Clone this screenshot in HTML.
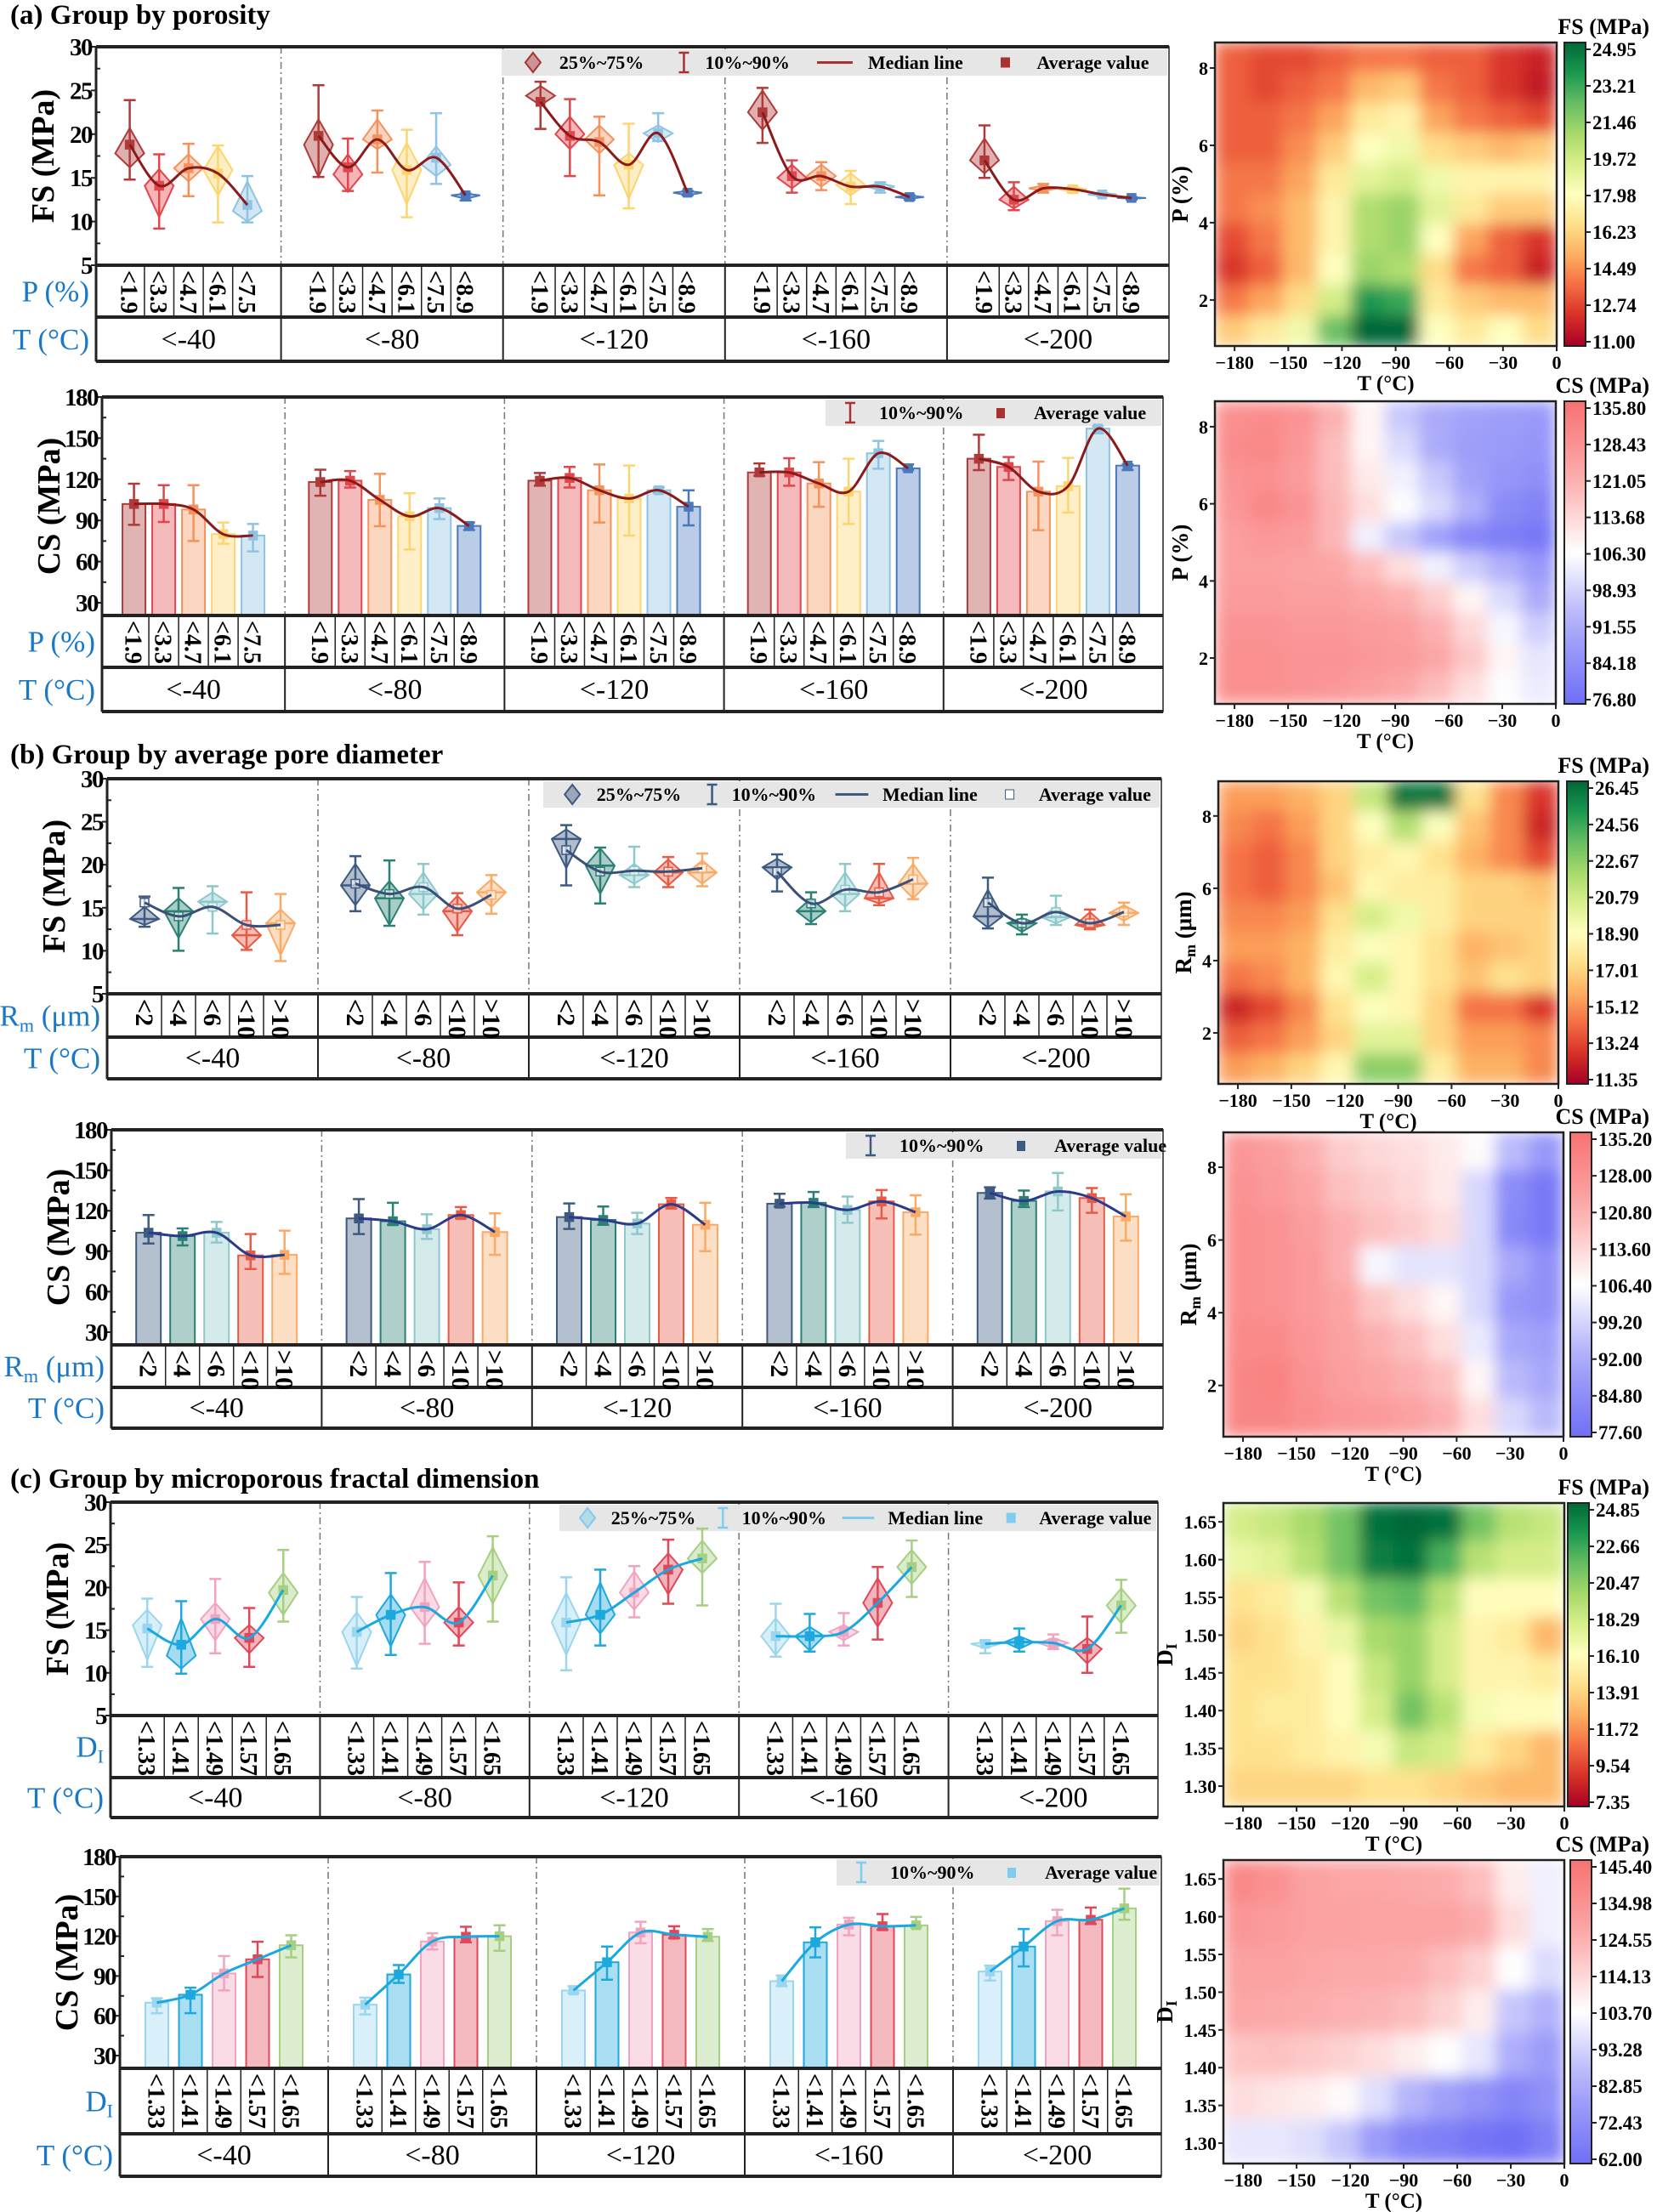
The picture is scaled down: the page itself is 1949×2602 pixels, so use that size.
<!DOCTYPE html>
<html><head><meta charset="utf-8"><style>
body{margin:0;background:#fff}
svg{display:block;font-family:"Liberation Serif",serif}
</style></head><body>
<svg id="fig" width="1949" height="2602" viewBox="0 0 1949 2602" xmlns="http://www.w3.org/2000/svg">
<defs>
<filter id="blur" x="0" y="0" width="100%" height="100%"><feGaussianBlur stdDeviation="9" edgeMode="duplicate"/></filter>
</defs>
</svg>
<script>
// ---------- DATA ----------
const tempLabels = ["<-40","<-80","<-120","<-160","<-200"];
const porosityCats = [["<1.9","<3.3","<4.7","<6.1","<7.5"],["<1.9","<3.3","<4.7","<6.1","<7.5","<8.9"],["<1.9","<3.3","<4.7","<6.1","<7.5","<8.9"],["<1.9","<3.3","<4.7","<6.1","<7.5","<8.9"],["<1.9","<3.3","<4.7","<6.1","<7.5","<8.9"]];
const poreCats = ["<2","<4","<6","<10",">10"];
const fractalCats = ["<1.33","<1.41","<1.49","<1.57","<1.65"];
const fsTicks = [5,10,15,20,25,30];
const csTicks = [30,60,90,120,150,180];

const aFS_p90 = [23.9,17.7,18.9,18.7,15.2, 25.6,19.5,22.7,20.5,22.4,13.2, 26.0,24.0,22.0,21.2,22.4,13.5, 25.3,17.0,16.8,15.8,14.5,13.0, 21.0,14.5,14.3,14.0,13.3,12.8];
const aFS_p10 = [14.8,9.2,12.9,9.9,9.9, 15.1,13.5,15.6,10.5,14.3,12.4, 20.6,15.2,13.0,11.5,19.2,13.0, 19.0,13.3,13.6,12.0,13.3,12.5, 15.0,11.3,13.3,13.3,12.9,12.5];
const aFS_q75 = [20.7,16.0,17.7,18.6,14.6, 21.7,17.7,21.7,19.0,18.6,13.2, 25.5,22.0,21.0,17.8,21.0,13.5, 25.0,16.5,16.5,15.5,14.4,13.0, 19.5,14.0,14.1,13.9,13.3,12.8];
const aFS_q25 = [16.2,10.5,14.6,13.0,10.0, 15.1,13.4,18.3,12.0,15.2,12.6, 23.3,18.3,17.8,12.6,19.1,13.0, 20.5,13.8,14.0,13.0,13.6,12.6, 15.5,11.5,13.5,13.4,12.9,12.6];
const aFS_med = [17.8,14.1,16.1,15.9,11.2, 18.8,15.4,19.4,15.9,16.5,13.0, 24.4,20.0,19.4,16.5,20.1,13.3, 22.5,15.0,15.2,14.2,14.0,12.8, 17.0,12.5,13.8,13.7,13.1,12.7];
const aFS_mean = [18.8,14.1,16.1,15.5,11.9, 19.8,16.2,19.4,15.9,17.3,13.0, 23.7,19.8,19.1,16.5,20.1,13.3, 22.5,15.2,15.2,14.0,14.0,12.8, 17.0,12.5,13.8,13.7,13.1,12.7];

const aCS_mean = [102,102,98,80,79, 118,119,105,93,99,86, 119,121,112,106,112,100, 125,125,117,111,139,128, 135,129,111,115,157,130];
const aCS_p90 = [116.8,115.7,115.7,88.5,87.4, 127,126,124,109.8,106,88.5, 124.6,129,130.8,130,114,112, 131.6,135.4,132.5,135,148,130.8, 152.5,136.2,132.9,135.6,158.7,130.8];
const aCS_p10 = [86.8,88.9,75,73,67.4, 108,114,85.8,68.8,91,83, 115.3,114,88.5,79,110,86.4, 122.6,115.3,100,87.4,127.7,126.7, 126.7,119.5,82.9,95.7,153.5,126.7];

const bFS_p90 = [16.3,17.3,17.5,16.8,16.6, 21.0,20.5,20.1,16.7,18.8, 24.6,22.0,22.1,20.9,21.3, 21.2,16.8,20.1,20.1,20.8, 18.5,14.2,16.4,14.8,15.6];
const bFS_p10 = [12.8,10.0,12.0,10.1,8.8, 14.6,12.9,14.2,11.8,14.3, 17.6,15.5,17.4,17.4,17.5, 16.9,13.1,14.6,15.3,16.0, 12.6,11.9,13.0,12.5,13.0];
const bFS_q75 = [15.1,16.1,16.8,13.5,14.8, 20.1,18.1,19.1,16.4,18.3, 24.1,21.9,20.1,20.6,20.5, 20.7,16.1,19.1,19.1,20.1, 17.1,13.8,15.1,14.5,15.3];
const bFS_q25 = [13.0,11.5,14.5,10.2,9.5, 15.3,13.0,14.8,12.2,15.1, 19.6,16.6,17.8,17.6,17.8, 18.3,13.3,15.1,15.5,16.1, 12.7,12.2,13.2,12.6,13.5];
const bFS_med = [13.7,14.6,15.7,11.8,13.2, 17.6,16.1,16.6,14.6,16.8, 23.0,19.9,18.8,19.1,19.1, 19.7,14.6,16.6,16.1,17.8, 14.0,13.2,13.9,13.0,14.4];
const bFS_mean = [15.6,14.0,15.1,13.0,13.0, 17.8,16.6,17.4,14.9,16.5, 21.7,19.2,19.3,19.2,19.6, 19.2,15.5,17.1,16.8,18.3, 15.6,13.2,14.5,13.2,14.5];

const bCS_mean = [103.7,101.2,103.7,86.9,87.3, 114.3,112.2,106.3,116.8,104.2, 115.3,113.2,110.5,124.8,109.6, 125.2,125.9,120.6,126.9,118.9, 133.2,127.3,134.3,129.4,115.7];
const bCS_p90 = [116.8,106.9,111.7,102.7,105.2, 128.6,125.9,117.4,122.7,118.1, 125.4,123.1,118.5,129.4,125.9, 132.6,133.9,130.5,135.3,131.5, 137.4,134.9,148,136.8,132.2];
const bCS_p10 = [95.7,94.3,96.4,76.8,73.2, 102.7,109.6,99.1,114.3,87.3, 106.5,109.6,102.7,121.6,90, 123.1,122.7,111.1,114.3,102.3, 129,122.7,120.2,118.5,97.8];

const cFS_p90 = [18.7,18.4,21.0,17.6,24.4, 18.9,21.7,23.0,20.6,26.0, 21.2,22.1,22.5,25.6,26.9, 18.1,16.9,17.0,22.4,25.5, 13.8,15.2,14.5,16.6,20.9];
const cFS_p10 = [10.7,9.9,12.3,10.7,16.0, 10.5,12.1,13.4,13.2,16.0, 10.3,13.2,16.5,18.1,17.9, 11.9,12.5,13.2,13.9,18.9, 12.3,12.5,12.8,10.0,14.7];
const cFS_q75 = [17.4,16.4,18.2,15.6,21.7, 17.1,19.2,21.1,17.7,24.7, 19.4,20.6,21.9,24.0,25.5, 16.4,15.4,15.6,21.1,24.4, 13.6,14.3,14.1,14.1,19.9];
const cFS_q25 = [11.5,10.5,13.8,12.3,16.8, 10.8,13.1,15.4,14.1,18.1, 12.1,14.6,17.4,19.2,21.7, 12.1,12.6,13.8,15.4,20.4, 12.9,12.8,12.9,11.1,15.8];
const cFS_med = [15.6,12.0,16.3,14.1,19.4, 14.8,16.8,17.7,15.9,21.4, 15.9,16.8,19.4,22.1,23.4, 14.3,14.3,14.8,18.2,22.4, 13.4,13.6,13.5,12.8,17.9];
const cFS_mean = [15.2,13.3,16.3,14.1,19.7, 14.8,16.8,17.7,15.9,21.4, 15.9,16.8,19.4,22.1,23.4, 14.3,14.3,14.8,18.2,22.4, 13.4,13.6,13.5,12.8,17.9];

const cCS_mean = [69.9,75.9,91.9,102.6,113.2, 68.4,91.2,116,119.6,120, 79.1,100.4,122.8,121.1,119.6, 86.1,115.4,128.8,127.5,128.2, 93.4,112.2,131.4,132.4,141];
const cCS_p90 = [73.3,81.2,105.1,115.8,120.7, 73.7,98.3,122.2,127.1,128.2, 82.3,112.2,130.9,127.5,125.4, 90.4,126.7,133.9,136.7,134.6, 97.9,125.4,139.9,141.6,155.9];
const cCS_p10 = [62,62,79.1,89.3,104, 61,84.8,110,115.4,109, 77,87.2,114.7,118.6,116.4, 82.3,104,120.7,124.9,126.7, 86.6,97.2,120.7,129.2,132.4];

// heatmap grids (rows top->bottom, cols T=-180..0)
const hmA_FS = [
[13.5,13,13,13.5,14,14,13.5,13.5,12.5,12],
[13.5,13,13.5,14,15.5,16,14,13.5,12.5,11.8],
[13.5,13.5,14,15,17,17.5,15,14,13.5,13],
[13.5,13.5,14.5,16,18,18.5,16.5,16,15.5,16],
[14,14,15,17,19,19.5,18.5,17.5,17.5,17.5],
[14,14.5,15.5,17.5,20.5,21,19,17,16,16],
[13,14,15.5,17.5,20.5,21,18,15,13.5,12.5],
[12.5,13.5,15.5,18,21,20.5,16.5,14,13.5,12],
[14,15,16.5,19.5,23.5,23,17,16,15.5,15.5],
[16,17,18.5,22,25,25,18,17,18,16.5]];
const hmA_CS = [
[128,129,127,120,108,97,92,90,89,88],
[129,130,126,118,108,100,92,89,88,87],
[127,128,125,118,110,104,97,90,87,85],
[126,130,127,119,112,106,100,93,84,82],
[124,126,125,119,104,97,90,83,81,79],
[124,124,123,122,118,112,104,98,93,88],
[125,125,124,124,122,120,115,108,100,92],
[127,127,126,126,125,124,120,113,105,98],
[128,128,127,127,126,125,122,116,108,102],
[128,128,127,126,124,122,118,112,106,103]];
const hmB_FS = [
[15.5,15.5,16,17,21,26,26,17.5,15,13],
[15,14.5,15.5,17,19,21.5,19,16.5,15,12.5],
[14.5,14,15,17,18,18.5,17.5,16,15,13.5],
[14.5,14,15,16.5,18.5,18,18,17,17,16.5],
[15,15,15.5,17.5,20.5,19.5,18,17,17,17],
[15.5,15.5,16,18,19,18.5,17.5,16,16.5,17],
[14.5,15,16,18.5,20.5,18.5,17.5,16.5,17.5,17],
[12.5,13.5,15,17.5,19,18.5,17,14.5,14.5,13],
[14,14.5,15.5,17,20,20,17,15.5,15.5,15],
[15.5,16,17,18.5,22.5,22.5,18,16,16,15]];
const hmB_CS = [
[126,124,120,115,113,112,110,107,95,88],
[127,125,122,117,115,113,110,100,85,80],
[128,127,124,120,117,115,112,100,84,80],
[128,127,125,120,105,102,102,100,92,86],
[128,127,125,122,116,112,108,100,88,86],
[129,129,126,123,120,117,112,103,92,90],
[130,131,127,124,122,120,117,108,95,92],
[130,130,128,126,125,123,120,112,100,95]];
const hmC_FS = [
[18,18.5,19.5,21,24.5,25,24.5,21,19,18.5],
[17,17.5,19,21,24,24.5,22,19,18,18],
[14.5,15,16.5,19,21,21.5,19,16,16,16],
[14,14.5,15.5,17,19.5,20,18,15.5,15,13],
[14.5,14.5,15,16,18.5,20,18,15.5,15.5,15],
[14.5,15,15,16,18,21,19,16.5,16,16],
[14.5,14.5,15,15.5,16.5,18.5,18,15,14,13],
[14,14,14,14,14.5,14.5,14,13.5,13,13]];
const hmC_CS = [
[137,134,128,126,126,125,124,120,108,100],
[132,130,128,128,127,127,127,124,112,100],
[128,128,126,125,125,124,120,115,104,95],
[126,125,124,123,122,120,115,108,90,85],
[118,119,117,115,112,108,104,98,84,78],
[112,110,108,105,96,86,80,75,70,74],
[98,98,96,90,78,70,68,64,62,68]];
const cbA_FS = ["24.95","23.21","21.46","19.72","17.98","16.23","14.49","12.74","11.00"];
const cbA_CS = ["135.80","128.43","121.05","113.68","106.30","98.93","91.55","84.18","76.80"];
const cbB_FS = ["26.45","24.56","22.67","20.79","18.90","17.01","15.12","13.24","11.35"];
const cbB_CS = ["135.20","128.00","120.80","113.60","106.40","99.20","92.00","84.80","77.60"];
const cbC_FS = ["24.85","22.66","20.47","18.29","16.10","13.91","11.72","9.54","7.35"];
const cbC_CS = ["145.40","134.98","124.55","114.13","103.70","93.28","82.85","72.43","62.00"];
const hmXTicks = [-180,-150,-120,-90,-60,-30,0];
const hmYTicksP = [2,4,6,8];
const hmYTicksR = [2,4,6,8];
const hmYTicksD = [1.30,1.35,1.40,1.45,1.50,1.55,1.60,1.65];

// ---------- HELPERS ----------
const NS="http://www.w3.org/2000/svg";
const svg=document.getElementById('fig');
function mk(tag,attrs,parent){const e=document.createElementNS(NS,tag);for(const k in attrs)e.setAttribute(k,attrs[k]);(parent||svg).appendChild(e);return e;}
function txt(s,attrs,parent){const e=mk('text',attrs,parent);e.textContent=s;return e;}
const BLUE='#1a78c8';
function spline(pts){let d='M'+pts[0][0]+','+pts[0][1];for(let i=0;i<pts.length-1;i++){const p0=pts[Math.max(0,i-1)],p1=pts[i],p2=pts[i+1],p3=pts[Math.min(pts.length-1,i+2)];const c1=[p1[0]+(p2[0]-p0[0])/6,p1[1]+(p2[1]-p0[1])/6],c2=[p2[0]-(p3[0]-p1[0])/6,p2[1]-(p3[1]-p1[1])/6];d+=' C'+c1+' '+c2+' '+p2;}return d;}

function drawPanel(P){
  const g=mk('g',{});
  
  
  const ymin=P.ymin,ymax=P.ymax;
  const yv=v=>P.top+(ymax-v)/(ymax-ymin)*(P.base-P.top);
  const N=P.groups.reduce((a,b)=>a+b,0);
  const slot=(P.R-P.L)/N;
  const xs=[],gi=[],edges=[P.L];let acc=P.L;
  P.groups.forEach((n,g_)=>{const W=n*slot;const pad=(W-(n-1)*P.sp)/2;for(let i=0;i<n;i++){xs.push(acc+pad+i*P.sp);gi.push([g_,i]);}acc+=W;edges.push(acc);});
  for(let j=1;j<edges.length-1;j++){const l=mk('line',{x1:edges[j],x2:edges[j],y1:P.top,y2:P.base,stroke:'#777','stroke-width':1.5,'stroke-dasharray':'8 4 2 4'},g);
    
    }
  const lg=mk('g',{},g);
  
  
  const lx=P.legX,lw=P.R-P.legX-2,ly=P.top+3,lh=31;
  mk('rect',{x:lx,y:ly,width:lw,height:lh,fill:'#e6e6e6'},lg);
  const lc=P.legColor,ty=ly+23,fsz=22;
  if(P.type==='fs'){
    const s=lw/785;
    mk('path',{d:`M${lx+37*s},${ly+4} l9,11.5 l-9,11.5 l-9,-11.5z`,fill:lc,'fill-opacity':0.45,stroke:lc,'stroke-width':2},lg);
    const t1=txt('25%~75%',{x:lx+68*s,y:ty,'font-size':fsz,'font-weight':'bold'},lg);
    
    
    const ex=lx+215*s;
    mk('path',{d:`M${ex-6},${ly+4}h12M${ex},${ly+4}v23M${ex-6},${ly+27}h12`,stroke:lc,'stroke-width':2.5,fill:'none'},lg);
    const t2=txt('10%~90%',{x:lx+240*s,y:ty,'font-size':fsz,'font-weight':'bold'},lg);
    
    
    mk('line',{x1:lx+372*s,x2:lx+414*s,y1:ly+15.5,y2:ly+15.5,stroke:lc,'stroke-width':3},lg);
    const t3=txt('Median line',{x:lx+432*s,y:ty,'font-size':fsz,'font-weight':'bold'},lg);
    
    
    mk('rect',{x:lx+594*s-5,y:ly+10,width:10,height:11,fill:P.sqFill||lc,stroke:lc},lg);
    const t4=txt('Average value',{x:lx+631*s,y:ty,'font-size':fsz,'font-weight':'bold'},lg);
    
    
  } else {
    const ex=lx+29;
    mk('path',{d:`M${ex-6},${ly+4}h12M${ex},${ly+4}v23M${ex-6},${ly+27}h12`,stroke:lc,'stroke-width':2.5,fill:'none'},lg);
    const t2=txt('10%~90%',{x:lx+63,y:ty,'font-size':fsz,'font-weight':'bold'},lg);
    
    
    mk('rect',{x:lx+201,y:ly+10,width:10,height:12,fill:lc},lg);
    const t4=txt('Average value',{x:lx+245,y:ty,'font-size':fsz,'font-weight':'bold'},lg);
    
    
  }
  const D=P.data;
  xs.forEach((x,i)=>{
    const col=P.colors[gi[i][1]];
    if(P.type==='cs'){
      const bw=P.bw;
      const b=mk('rect',{x:x-bw/2,y:yv(D.mean[i]),width:bw,height:P.base-yv(D.mean[i]),fill:col,'fill-opacity':0.38,stroke:col,'stroke-width':2},g);
      
      
    } else {
      const hw=P.dw;
      const dm=mk('path',{d:`M${x},${yv(D.q75[i])} L${x+hw},${yv(D.med[i])} L${x},${yv(D.q25[i])} L${x-hw},${yv(D.med[i])}Z`,fill:col,'fill-opacity':0.4,stroke:col,'stroke-width':2},g);
      
      
      if(P.medTick){mk('line',{x1:x-hw,x2:x+hw,y1:yv(D.med[i]),y2:yv(D.med[i]),stroke:col,'stroke-width':2.5},g);}
    }
    const e=mk('path',{d:`M${x-7},${yv(D.p90[i])}h14M${x},${yv(D.p90[i])}V${yv(D.p10[i])}M${x-7},${yv(D.p10[i])}h14`,stroke:col,'stroke-width':2.5,fill:'none'},g);
    
    
    const sq=mk('rect',{x:x-5,y:yv(D.mean[i])-5,width:10,height:10,fill:P.sqHollow?'#fff':col,stroke:col,'stroke-width':1.5,'fill-opacity':P.sqHollow?0.6:1},g);
    
    
  });
  let s0=0;
  P.groups.forEach(n=>{const pts=[];for(let i=s0;i<s0+n;i++)pts.push([xs[i],yv(D.mean[i])]);s0+=n;
    const c=mk('path',{d:spline(pts),fill:'none',stroke:P.lineColor,'stroke-width':3},g);
    
    });
  mk('rect',{x:P.L,y:P.top,width:P.R-P.L,height:P.rowB-P.top,fill:'none',stroke:'#222','stroke-width':1.5},g);
  mk('line',{x1:P.L,x2:P.R,y1:P.top,y2:P.top,stroke:'#222','stroke-width':4},g);
  [P.base,P.rowA,P.rowB].forEach(y=>mk('line',{x1:P.L,x2:P.R,y1:y,y2:y,stroke:'#222','stroke-width':4},g));
  mk('line',{x1:P.L,x2:P.L,y1:P.top,y2:P.rowB,stroke:'#222','stroke-width':3},g);
  P.ticks.forEach(t=>{const y=yv(t);mk('line',{x1:P.L-6,x2:P.L,y1:y,y2:y,stroke:'#222','stroke-width':2},g);
    const tl=txt(String(t),{x:P.L-5,y:y+10,'font-size':29,'font-weight':'bold','text-anchor':'end','letter-spacing':-1.5},g);
    
    });
  const st=(P.ticks[1]-P.ticks[0])/2;
  for(let t=P.ticks[0]+st;t<P.ticks[P.ticks.length-1];t+=2*st){const y=yv(t);mk('line',{x1:P.L,x2:P.L+5,y1:y,y2:y,stroke:'#222','stroke-width':2},g);}
  const yt=txt(P.ytitle,{x:0,y:0,'font-size':38,'font-weight':'bold','text-anchor':'middle',transform:`translate(${P.L-50},${(P.top+P.base)/2}) rotate(-90)`},g);
  
  
  for(let i=0;i<xs.length;i++){
    const [g_,j]=gi[i];const n=P.groups[g_];
    const cl=j===0?edges[g_]:(xs[i-1]+xs[i])/2;
    if(j>0)mk('line',{x1:cl,x2:cl,y1:P.base,y2:P.rowA,stroke:'#222','stroke-width':1.5},g);
    const ct=txt(P.cats[g_][j],{x:0,y:0,'font-size':P.catSize||28,'font-weight':'bold',transform:`translate(${xs[i]-10},${P.base+6}) rotate(90)`},g);
    
    
  }
  for(let j=1;j<edges.length-1;j++)mk('line',{x1:edges[j],x2:edges[j],y1:P.base,y2:P.rowB,stroke:'#222','stroke-width':2},g);
  tempLabels.forEach((t,j)=>{const tt=txt(t,{x:(edges[j]+edges[j+1])/2,y:(P.rowA+P.rowB)/2+11,'font-size':34,'text-anchor':'middle'},g);
    
    });
  const rl=mk('text',{x:P.L-8,y:(P.base+P.rowA)/2+12,'font-size':35,fill:BLUE,'text-anchor':'end'},g);
  rl.innerHTML=P.rowLabel;
  
  
  const rt=txt('T (°C)',{x:P.L-8,y:(P.rowA+P.rowB)/2+12,'font-size':35,fill:BLUE,'text-anchor':'end'},g);
  
  
}

function cmapFS(t){const st=['#a50026','#d73027','#f46d43','#fdae61','#fee08b','#ffffbf','#d9ef8b','#a6d96a','#66bd63','#1a9850','#006837'];return interp(st,t);}
function cmapCS(t){const st=['#6f6ff6','#a8a8fa','#ffffff','#fcaaaa','#f87272'];return interp(st,t);}
function interp(st,t){t=Math.max(0,Math.min(1,t));const f=t*(st.length-1),i=Math.min(st.length-2,Math.floor(f)),r=f-i;const a=h(st[i]),b=h(st[i+1]);return 'rgb('+a.map((v,k)=>Math.round(v+(b[k]-v)*r)).join(',')+')';}
function h(s){return [1,3,5].map(i=>parseInt(s.substr(i,2),16));}

let hmId=0;
function drawHeat(H){
  hmId++;
  const g=mk('g',{});
  
  
  const vmin=parseFloat(H.cb[H.cb.length-1]),vmax=parseFloat(H.cb[0]);
  const cm=H.cs?cmapCS:cmapFS;
  const cp=mk('clipPath',{id:'hc'+hmId},svg.querySelector('defs'));
  mk('rect',{x:H.x0,y:H.y0,width:H.x1-H.x0,height:H.y1-H.y0},cp);
  const cg=mk('g',{'clip-path':`url(#hc${hmId})`},g);
  const bg=mk('g',{filter:'url(#blur)'},cg);
  const rows=H.grid.length,cols=H.grid[0].length;
  const cw=(H.x1-H.x0)/cols,ch=(H.y1-H.y0)/rows;
  H.grid.forEach((row,r)=>row.forEach((v,c)=>{
    const cell=mk('rect',{x:H.x0+c*cw-0.5,y:H.y0+r*ch-0.5,width:cw+1,height:ch+1,fill:cm((v-vmin)/(vmax-vmin))},bg);
    
    
  }));
  mk('rect',{x:H.x0,y:H.y0,width:H.x1-H.x0,height:H.y1-H.y0,fill:'none',stroke:'#222','stroke-width':2.5},g);
  const xv=v=>H.x0+(v-(-191))/(0-(-191))*(H.x1-H.x0);
  hmXTicks.forEach(t=>{const x=xv(t);mk('line',{x1:x,x2:x,y1:H.y1,y2:H.y1+6,stroke:'#222','stroke-width':2},g);
    const tl=txt(t===0?'0':'−'+Math.abs(t),{x:x,y:H.y1+27,'font-size':22,'font-weight':'bold','text-anchor':'middle'},g);
    
    });
  const xt=txt('T (°C)',{x:(H.x0+H.x1)/2,y:H.y1+52,'font-size':25,'font-weight':'bold','text-anchor':'middle'},g);
  
  
  const yv=v=>H.y0+(H.ymax-v)/(H.ymax-H.ymin)*(H.y1-H.y0);
  H.yticks.forEach(t=>{const y=yv(t);mk('line',{x1:H.x0-6,x2:H.x0,y1:y,y2:y,stroke:'#222','stroke-width':2},g);
    const tl=txt(H.dec?t.toFixed(2):String(t),{x:H.x0-8,y:y+8,'font-size':22,'font-weight':'bold','text-anchor':'end'},g);
    
    });
  const yt=mk('text',{x:0,y:0,'font-size':27,'font-weight':'bold','text-anchor':'middle',transform:`translate(${H.x0-(H.dec?60:32)},${(H.y0+H.y1)/2}) rotate(-90)`},g);
  yt.innerHTML=H.ytitle;
  
  
  const gid='cg'+hmId;const lgr=mk('linearGradient',{id:gid,x1:0,y1:1,x2:0,y2:0},svg.querySelector('defs'));
  for(let i=0;i<=10;i++)mk('stop',{offset:i/10,'stop-color':cm(i/10)},lgr);
  const cb=mk('rect',{x:H.cbx,y:H.y0,width:25,height:H.y1-H.y0,fill:`url(#${gid})`,stroke:'#222','stroke-width':2},g);
  
  
  H.cb.forEach((s,i)=>{const y=H.y0+8+i*(H.y1-H.y0-13)/(H.cb.length-1);
    mk('line',{x1:H.cbx+25,x2:H.cbx+31,y1:y,y2:y,stroke:'#222','stroke-width':2},g);
    const tl=txt(s,{x:H.cbx+33,y:y+8,'font-size':23,'font-weight':'bold'},g);
    
    });
  const ct=txt(H.cs?'CS (MPa)':'FS (MPa)',{x:1940,y:H.y0-10,'font-size':26,'font-weight':'bold','text-anchor':'end'},g);
  
  
}

[['(a) Group by porosity',28],['(b) Group by average pore diameter',898],['(c) Group by microporous fractal dimension',1750]].forEach(([s,y])=>{
  const t=txt(s,{x:12,y:y,'font-size':33,'font-weight':'bold'});
  
  
});

const aCol=['#b03a3a','#e0464b','#f5925c','#fdd56e','#8fc3e3','#4a78bd'];
const bCol=['#3d5a80','#2a8074','#8dc9cb','#e85a44','#fbaa66'];
const cCol=['#9bd6ef','#1fa8de','#f2a3bf','#e04758','#a6cf82'];
const G5=[5,5,5,5,5];
function yminCS(top,y30,base){const ppu=(y30-top)/150;return 30-(base-y30)/ppu;}
const RM='R<tspan font-size="22" dy="7">m</tspan><tspan dy="-7"> (μm)</tspan>';
const DI='D<tspan font-size="22" dy="7">I</tspan>';

drawPanel({name:'porosity-fs-panel',type:'fs',L:113,R:1375,top:55,base:312,rowA:373,rowB:425,ymin:5,ymax:30,ticks:fsTicks,groups:[5,6,6,6,6],sp:34.6,dw:17,colors:aCol,lineColor:'#8b1a1a',legColor:'#a83232',legX:590,cats:porosityCats,ytitle:'FS (MPa)',rowLabel:'P (%)',data:{p90:aFS_p90,p10:aFS_p10,q75:aFS_q75,q25:aFS_q25,med:aFS_med,mean:aFS_mean}});
drawPanel({name:'porosity-cs-panel',type:'cs',L:120,R:1368,top:467,base:724,rowA:785,rowB:837,ymin:yminCS(467,709,724),ymax:180,ticks:csTicks,groups:[5,6,6,6,6],sp:35,bw:27,colors:aCol,lineColor:'#8b1a1a',legColor:'#a83232',legX:971,cats:porosityCats,ytitle:'CS (MPa)',rowLabel:'P (%)',data:{p90:aCS_p90,p10:aCS_p10,mean:aCS_mean}});
drawPanel({name:'pore-diameter-fs-panel',type:'fs',L:126,R:1366,top:916,base:1169,rowA:1220,rowB:1269,ymin:5,ymax:30,ticks:fsTicks,groups:G5,sp:40,dw:17,medTick:true,sqHollow:true,sqFill:'#fff',catSize:30,colors:bCol,lineColor:'#3a5078',legColor:'#3d5a80',legX:639,cats:[poreCats,poreCats,poreCats,poreCats,poreCats],ytitle:'FS (MPa)',rowLabel:RM,data:{p90:bFS_p90,p10:bFS_p10,q75:bFS_q75,q25:bFS_q25,med:bFS_med,mean:bFS_mean}});
drawPanel({name:'pore-diameter-cs-panel',type:'cs',L:131,R:1368,top:1329,base:1582,rowA:1632,rowB:1680,ymin:yminCS(1329,1567,1582),ymax:180,ticks:csTicks,groups:G5,sp:40,bw:29,catSize:30,colors:bCol,lineColor:'#2b3a8a',legColor:'#3d5a80',legX:995,cats:[poreCats,poreCats,poreCats,poreCats,poreCats],ytitle:'CS (MPa)',rowLabel:RM,data:{p90:bCS_p90,p10:bCS_p10,mean:bCS_mean}});
drawPanel({name:'fractal-fs-panel',type:'fs',L:130,R:1362,top:1767,base:2018,rowA:2091,rowB:2138,ymin:5,ymax:30,ticks:fsTicks,groups:G5,sp:40,dw:17,colors:cCol,lineColor:'#1aa8e0',legColor:'#7fcdee',legX:658,cats:[fractalCats,fractalCats,fractalCats,fractalCats,fractalCats],ytitle:'FS (MPa)',rowLabel:DI,data:{p90:cFS_p90,p10:cFS_p10,q75:cFS_q75,q25:cFS_q25,med:cFS_med,mean:cFS_mean}});
drawPanel({name:'fractal-cs-panel',type:'cs',L:141,R:1366,top:2184,base:2433,rowA:2510,rowB:2560,ymin:yminCS(2184,2418,2433),ymax:180,ticks:csTicks,groups:G5,sp:39.5,bw:27,colors:cCol,lineColor:'#1aa8e0',legColor:'#7fcdee',legX:984,cats:[fractalCats,fractalCats,fractalCats,fractalCats,fractalCats],ytitle:'CS (MPa)',rowLabel:DI,data:{p90:cCS_p90,p10:cCS_p10,mean:cCS_mean}});

drawHeat({name:'porosity-fs-heatmap',x0:1429,x1:1831,y0:50,y1:407,cbx:1840,grid:hmA_FS,cb:cbA_FS,cs:false,ymin:0.81,ymax:8.66,yticks:hmYTicksP,ytitle:'P (%)'});
drawHeat({name:'porosity-cs-heatmap',x0:1429,x1:1830,y0:472,y1:828,cbx:1840,grid:hmA_CS,cb:cbA_CS,cs:true,ymin:0.81,ymax:8.66,yticks:hmYTicksP,ytitle:'P (%)'});
drawHeat({name:'pore-diameter-fs-heatmap',x0:1433,x1:1833,y0:919,y1:1275,cbx:1843,grid:hmB_FS,cb:cbB_FS,cs:false,ymin:0.59,ymax:8.96,yticks:hmYTicksR,ytitle:'R<tspan font-size="18" dy="5">m</tspan><tspan dy="-5"> (μm)</tspan>'});
drawHeat({name:'pore-diameter-cs-heatmap',x0:1439,x1:1839,y0:1332,y1:1690,cbx:1847,grid:hmB_CS,cb:cbB_CS,cs:true,ymin:0.59,ymax:8.96,yticks:hmYTicksR,ytitle:'R<tspan font-size="18" dy="5">m</tspan><tspan dy="-5"> (μm)</tspan>'});
drawHeat({name:'fractal-fs-heatmap',x0:1439,x1:1840,y0:1768,y1:2125,cbx:1844,grid:hmC_FS,cb:cbC_FS,cs:false,dec:true,ymin:1.273,ymax:1.675,yticks:hmYTicksD,ytitle:'D<tspan font-size="18" dy="5">I</tspan>'});
drawHeat({name:'fractal-cs-heatmap',x0:1439,x1:1840,y0:2188,y1:2545,cbx:1847,grid:hmC_CS,cb:cbC_CS,cs:true,dec:true,ymin:1.273,ymax:1.675,yticks:hmYTicksD,ytitle:'D<tspan font-size="18" dy="5">I</tspan>'});
</script>
</body></html>
